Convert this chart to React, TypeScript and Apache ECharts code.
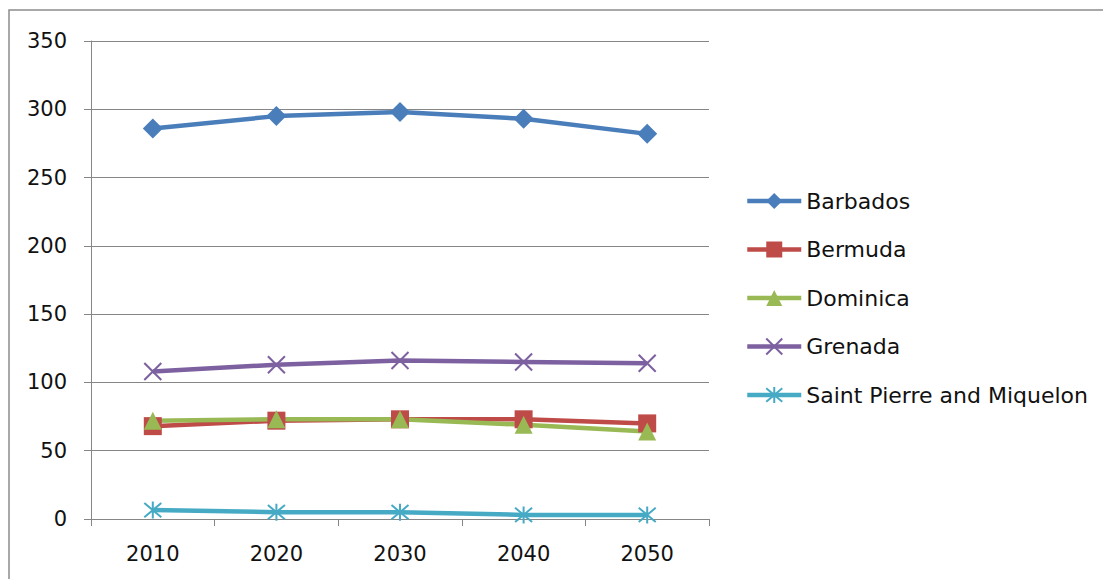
import React, { useEffect, useRef } from "react";
import * as echarts from "echarts";

const categories = ["2010", "2020", "2030", "2040", "2050"];
const barbados = [286, 295, 298, 293, 282];
const bermuda = [68, 72, 73, 73, 70];
const dominica = [72, 73, 73, 69, 64];
const grenada = [108, 113, 116, 115, 114];
const saintPierre = [6.5, 5, 5, 3, 3];

const FONT = "DejaVu Sans";

export default function App() {
  const ref = useRef<HTMLDivElement>(null);
  useEffect(() => {
    if (!ref.current) return;
    const chart = echarts.init(ref.current, null, { renderer: "svg" });
    const mk = (
      name: string,
      data: number[],
      color: string,
      symbol: string,
      symbolSize: number,
      stroke = false
    ) => ({
      name,
      type: "line",
      data,
      symbol,
      symbolSize,
      lineStyle: { color, width: 4.5 },
      itemStyle: stroke
        ? { color, borderColor: color, borderWidth: 2 }
        : { color, borderWidth: 0 },
      emphasis: { disabled: true },
    });
    chart.setOption({
      animation: false,
      backgroundColor: "#ffffff",
      textStyle: { fontFamily: FONT },
      graphic: [
        {
          type: "rect",
          shape: { x: 9, y: 10, width: 1300, height: 800 },
          style: { fill: "none", stroke: "#8c8c8c", lineWidth: 1.5 },
          silent: true,
        },
      ],
      grid: { left: 91, right: 394, top: 41, bottom: 60, containLabel: false },
      xAxis: {
        type: "category",
        data: categories,
        boundaryGap: true,
        axisLine: { lineStyle: { color: "#868686", width: 1 } },
        axisTick: { show: true, length: 7, lineStyle: { color: "#868686" } },
        axisLabel: { color: "#111", fontSize: 21, margin: 24, fontFamily: FONT },
        splitLine: { show: false },
      },
      yAxis: {
        type: "value",
        min: 0,
        max: 350,
        interval: 50,
        axisLine: { show: true, lineStyle: { color: "#868686", width: 1 } },
        axisTick: { show: true, length: 7, lineStyle: { color: "#868686" } },
        axisLabel: { color: "#111", fontSize: 21, margin: 24, fontFamily: FONT },
        splitLine: { show: true, lineStyle: { color: "#868686", width: 1 } },
      },
      legend: {
        orient: "vertical",
        left: 745,
        top: 190,
        padding: 0,
        itemWidth: 54,
        itemHeight: 20,
        itemGap: 26.5,
        lineStyle: { width: 4.5 },
        textStyle: { color: "#111", fontSize: 22, fontFamily: FONT },
        data: ["Barbados", "Bermuda", "Dominica", "Grenada", "Saint Pierre and Miquelon"],
      },
      series: [
        mk("Barbados", barbados, "#4A7EBB", "diamond", 20),
        mk("Bermuda", bermuda, "#BE4B48", "rect", 18),
        mk("Dominica", dominica, "#98B954", "triangle", 18),
        mk("Grenada", grenada, "#7D60A0", "path://M0,0L10,10M10,0L0,10", 17, true),
        mk(
          "Saint Pierre and Miquelon",
          saintPierre,
          "#46AAC5",
          "path://M0,0L10,10M10,0L0,10M5,-1L5,11",
          17,
          true
        ),
      ],
    });
    return () => chart.dispose();
  }, []);
  return (
    <div
      ref={ref}
      style={{ position: "absolute", left: 0, top: 0, width: 1103, height: 579 }}
    />
  );
}
